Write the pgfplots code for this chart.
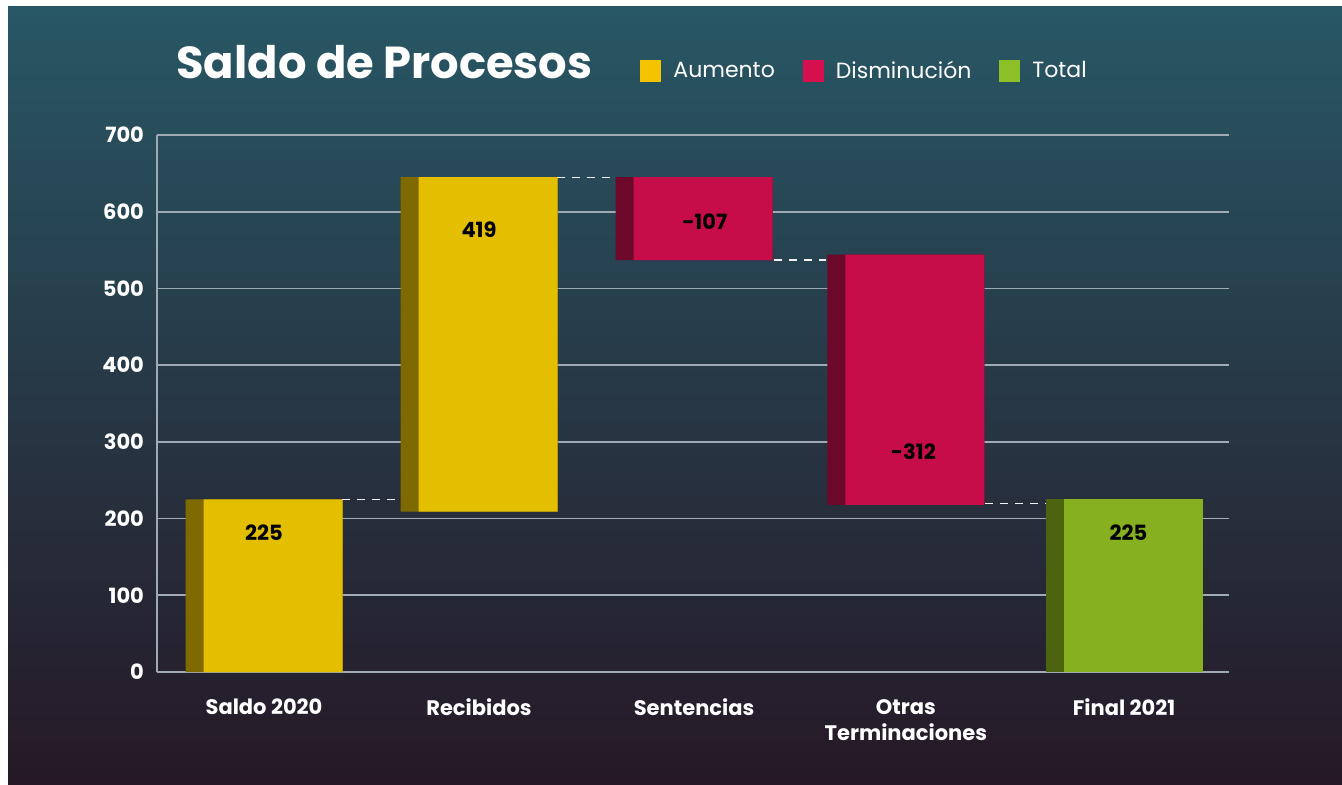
\documentclass[border=0pt]{standalone}
\usepackage{pgfplots}
\usepackage{pgfplotstable}
\pgfplotsset{compat=1.18}
\usepackage{fontspec}
\setmainfont{Poppins}

\definecolor{bgtop}{RGB}{40,87,101}
\definecolor{bgmid}{RGB}{41,52,68}
\definecolor{bgbot}{RGB}{38,24,38}
\definecolor{yel}{RGB}{228,190,0}
\definecolor{yeld}{RGB}{126,106,0}
\definecolor{crim}{RGB}{199,12,74}
\definecolor{crimd}{RGB}{108,8,42}
\definecolor{grn}{RGB}{134,176,31}
\definecolor{grnd}{RGB}{76,100,16}
\definecolor{gridc}{RGB}{160,170,180}
\definecolor{legy}{RGB}{245,196,0}
\definecolor{legr}{RGB}{214,16,79}
\definecolor{legg}{RGB}{141,191,39}

% x: category position, base: invisible offset, up/down/tot: visible heights
\pgfplotstableread{
x base up down tot
0 0 225 0 0
1 209 436 0 0
2 537 0 108 0
2.985 218 0 326 0
4 0 0 0 225
}\wf

\pgfplotstableread{
lx ly lab
0 181 225
1 577 419
2.05 587 -107
3.02 287 -312
4.02 181 225
}\labs

\pgfplotsset{
  wfaxis/.style={
    scale only axis, width=536pt, height=268.5pt,
    at={(78.5pt,56pt)}, anchor=south west,
    xmin=-0.4977, xmax=4.488, ymin=0, ymax=700,
  }
}

\begin{document}
\begin{tikzpicture}[x=0.5pt,y=0.5pt]
\useasboundingbox (0,0) rectangle (1342,784);
\fill[white] (0,0) rectangle (1342,784);
\shade[top color=bgtop, middle color=bgmid, bottom color=bgbot] (8,0) rectangle (1342,777);

\node[anchor=base west, inner sep=0, text=white, font=\bfseries\fontsize{22.4}{27}\selectfont] at (176,705) {Saldo de Procesos};

% axis A: grid, ticks, dark full-width bars
\begin{axis}[wfaxis,
  ybar stacked, bar width=78.5pt, bar shift=0pt,
  axis lines=left,
  axis line style={-, gridc, line width=0.8pt},
  ymajorgrids, major grid style={gridc, line width=0.8pt},
  major tick length=0pt,
  ytick={0,100,...,700},
  xtick={0,1,2,2.985,4},
  xticklabels={Saldo 2020, Recibidos, Sentencias, {Otras\\Terminaciones}, Final 2021},
  /pgf/number format/assume math mode=true,
  yticklabel style={font=\bfseries\fontsize{10.5}{12}\selectfont, text=white, xshift=-3pt},
  xticklabel style={font=\bfseries\fontsize{10.5}{13}\selectfont, text=white, align=center, yshift=-10pt},
]
\addplot[draw=none, fill=none] table[x=x, y=base] {\wf};
\addplot[draw=none, fill=yeld] table[x=x, y=up] {\wf};
\addplot[draw=none, fill=crimd] table[x=x, y=down] {\wf};
\addplot[draw=none, fill=grnd] table[x=x, y=tot] {\wf};
\end{axis}

% axis B: main coloured bars
\begin{axis}[wfaxis, hide axis,
  ybar stacked, bar width=69.5pt, bar shift=4.5pt,
]
\addplot[draw=none, fill=none] table[x=x, y=base] {\wf};
\addplot[draw=none, fill=yel] table[x=x, y=up] {\wf};
\addplot[draw=none, fill=crim] table[x=x, y=down] {\wf};
\addplot[draw=none, fill=grn] table[x=x, y=tot] {\wf};
\end{axis}

% axis C: connectors, value labels, legend
\begin{axis}[wfaxis, hide axis,
  legend columns=3,
  legend style={at={(0.4506,1.119)}, anchor=west, draw=none, fill=none, inner sep=0pt,
    text=white, font=\fontsize{11}{13}\selectfont,
    /tikz/every odd column/.append style={column sep=4pt},
    /tikz/every even column/.append style={column sep=12pt}},
  legend image code/.code={\fill[#1] (0pt,-5.5pt) rectangle (10.5pt,5.5pt);},
]
\addplot[forget plot, white!90!gray, dash pattern=on 4pt off 3.5pt, line width=0.7pt] coordinates {(0.363,225) (0.633,225)};
\addplot[forget plot, white!90!gray, dash pattern=on 4pt off 3.5pt, line width=0.7pt] coordinates {(1.363,645) (1.633,645)};
\addplot[forget plot, white!90!gray, dash pattern=on 4pt off 3.5pt, line width=0.7pt] coordinates {(2.372,537) (2.614,537)};
\addplot[forget plot, white!90!gray, dash pattern=on 4pt off 3.5pt, line width=0.7pt] coordinates {(3.353,220) (3.633,220)};
\addplot[forget plot, draw=none, mark=none, nodes near coords, point meta=explicit symbolic,
  nodes near coords style={anchor=center, text=black, font=\bfseries\fontsize{10.5}{12}\selectfont}]
  table[x=lx, y=ly, meta=lab] {\labs};
\addlegendimage{fill=legy, draw=none}
\addlegendentry{Aumento}
\addlegendimage{fill=legr, draw=none}
\addlegendentry{Disminución}
\addlegendimage{fill=legg, draw=none}
\addlegendentry{Total}
\end{axis}
\end{tikzpicture}
\end{document}
